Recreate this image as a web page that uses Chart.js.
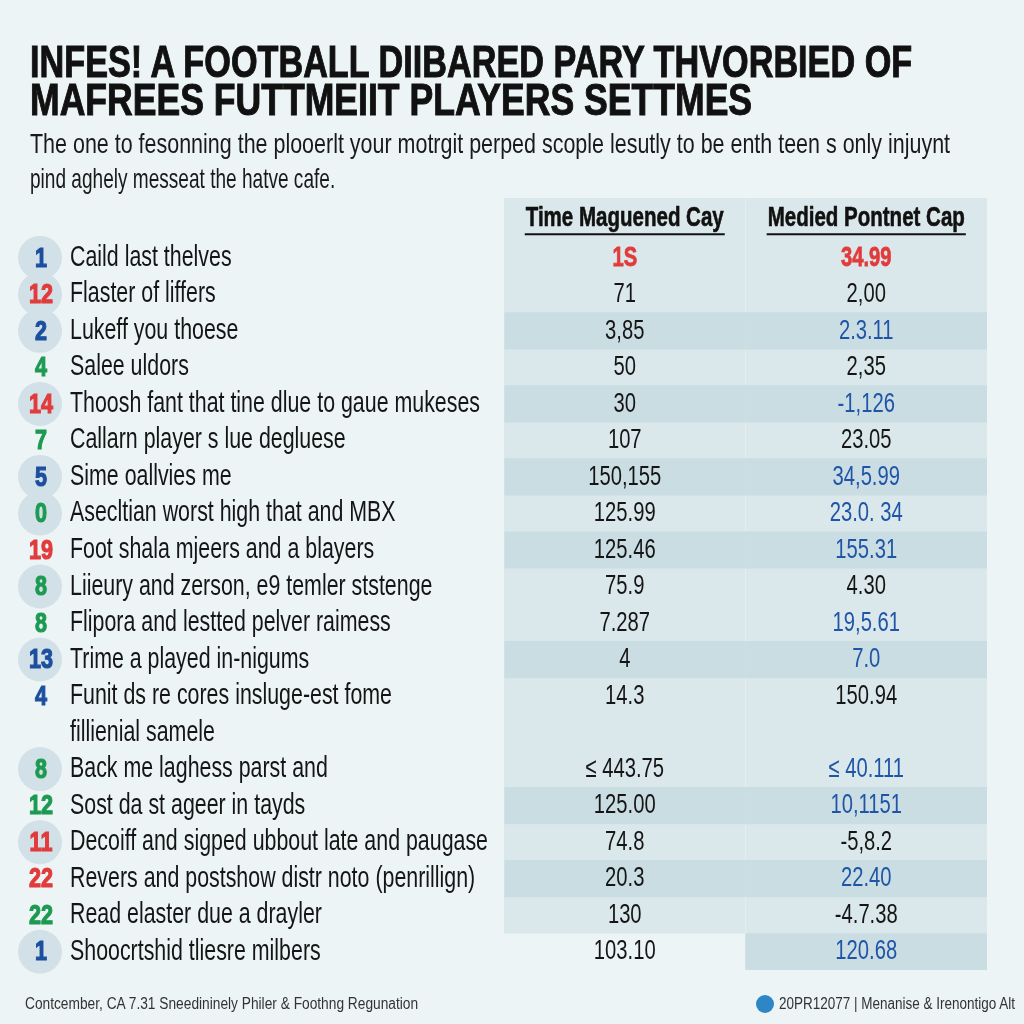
<!DOCTYPE html>
<html>
<head>
<meta charset="utf-8">
<script src="https://cdn.jsdelivr.net/npm/chart.js@4.4.1/dist/chart.umd.min.js"></script>
<style>
  html, body { margin: 0; padding: 0; }
  body { width: 1024px; height: 1024px; background: #ecf4f5; position: relative; overflow: hidden;
         font-family: "Liberation Sans", Arial, sans-serif; color: #151515; }
  #wrap { position: absolute; left: 0; top: 0; width: 1024px; height: 1024px; }
  .title { position: absolute; left: 30px; font-weight: bold; font-size: 44px; line-height: 40px;
           transform-origin: left top; white-space: nowrap; color: #111; -webkit-text-stroke: 1px #111; }
  .sub { position: absolute; left: 30px; font-size: 28px; line-height: 35px; white-space: nowrap;
         transform-origin: left top; color: #1a1a1a; }
  .foot { position: absolute; top: 995px; font-size: 16px; white-space: nowrap; color: #333;
          transform-origin: left top; }
  .icon { position: absolute; left: 756px; top: 995px; width: 18px; height: 18px; border-radius: 50%;
          background: #2f86c4; }
</style>
</head>
<body>
<div id="wrap"><canvas id="tableChart" width="1024" height="1024"></canvas></div>
<div class="title" id="t1" style="top:42px">INFES! A FOOTBALL DIIBARED PARY THVORBIED OF</div>
<div class="title" id="t2" style="top:80px">MAFREES FUTTMEIIT PLAYERS SETTMES</div>
<div class="sub" id="s1" style="top:126px">The one to fesonning the plooerlt your motrgit perped scople lesutly to be enth teen s only injuynt</div>
<div class="sub" id="s2" style="top:161px">pind aghely messeat the hatve cafe.</div>
<div class="foot" id="f1" style="left:25px">Contcember, CA 7.31 Sneedininely Philer &amp; Foothng Regunation</div>
<div class="icon"></div>
<div class="foot" id="f2" style="left:779px">20PR12077 | Menanise &amp; Irenontigo Alt</div>
<script>
// column headers
const headers = ['Time Maguened Cay', 'Medied Pontnet Cap'];

// rows
const ranks = ['1', '12', '2', '4', '14', '7', '5', '0', '19', '8', '8', '13', '4', '8', '12', '11', '22', '22', '1'];
const rankTeam = ['blue', 'red', 'blue', 'green', 'red', 'green', 'blue', 'green', 'red', 'green',
                  'green', 'blue', 'blue', 'green', 'green', 'red', 'red', 'green', 'blue'];
const rankBadge = [1, 1, 1, 0, 1, 0, 1, 1, 0, 1, 0, 1, 0, 1, 0, 1, 0, 0, 1];

const rowLabels = [
  'Caild last thelves',
  'Flaster of liffers',
  'Lukeff you thoese',
  'Salee uldors',
  'Thoosh fant that tine dlue to gaue mukeses',
  'Callarn player s lue degluese',
  'Sime oallvies me',
  'Asecltian worst high that and MBX',
  'Foot shala mjeers and a blayers',
  'Liieury and zerson, e9 temler ststenge',
  'Flipora and lestted pelver raimess',
  'Trime a played in-nigums',
  ['Funit ds re cores insluge-est fome', 'fillienial samele'],
  'Back me laghess parst and',
  'Sost da st ageer in tayds',
  'Decoiff and sigped ubbout late and paugase',
  'Revers and postshow distr noto (penrillign)',
  'Read elaster due a drayler',
  'Shoocrtshid tliesre milbers'
];

const timeValues = ['1S', '71', '3,85', '50', '30', '107', '150,155', '125.99', '125.46', '75.9',
                    '7.287', '4', '14.3', '\u2264 443.75', '125.00', '74.8', '20.3', '130', '103.10'];
const potentialValues = ['34.99', '2,00', '2.3.11', '2,35', '-1,126', '23.05', '34,5.99', '23.0. 34', '155.31', '4.30',
                         '19,5.61', '7.0', '150.94', '\u2264 40.111', '10,1151', '-5,8.2', '22.40', '-4.7.38', '120.68'];
const potentialTone = ['red', 'black', 'blue', 'black', 'blue', 'black', 'blue', 'blue', 'blue', 'black',
                       'blue', 'blue', 'black', 'blue', 'blue', 'black', 'blue', 'black', 'blue'];

const shadedLeft = [2, 4, 6, 8, 11, 14, 16];
const shadedRight = [2, 4, 6, 8, 11, 14, 16, 18];
const lastLeftRow = 17;

const colors = { blue: '#1c4f9e', red: '#e23b3b', green: '#1d9a52', black: '#151515', valBlue: '#1f55a6' };
const panelColor = '#dbe8eb';
const stripeColor = '#cadde3';

// slots on the category axis: header, then one per text line
const slots = ['hdr'];
const rowSlot = [];
rowLabels.forEach((l, i) => {
  rowSlot.push(slots.length);
  slots.push('r' + i);
  if (Array.isArray(l)) for (let k = 1; k < l.length; k++) slots.push('r' + i + '_' + k);
});

function stripeData(rows, from, to) {
  return slots.map((s, idx) => {
    const r = rowSlot.indexOf(idx);
    return (r >= 0 && rows.includes(r)) ? [from, to] : null;
  });
}

const FONT = '"Liberation Sans", Arial, sans-serif';
const LABEL_FONT = '29px ' + FONT;
const VALUE_FONT = '28px ' + FONT;
const HEAD_FONT = 'bold 27px ' + FONT;
const RANK_FONT = 'bold 28px ' + FONT;

// narrow the text like the condensed face of the reference
function widthOf(ctx, font, text) {
  ctx.font = font;
  return ctx.measureText(text).width;
}
function drawNarrow(ctx, text, x, y, align, sx, heavy) {
  ctx.save();
  ctx.translate(x, y);
  ctx.scale(sx, 1);
  ctx.textAlign = align;
  ctx.fillText(text, 0, 0);
  if (heavy) {
    ctx.strokeStyle = ctx.fillStyle;
    ctx.lineWidth = heavy;
    ctx.strokeText(text, 0, 0);
  }
  ctx.restore();
}

const panelPlugin = {
  id: 'panel',
  beforeDatasetsDraw(chart) {
    const { ctx, chartArea } = chart;
    const x = chart.scales.x, y = chart.scales.y;
    const half = (y.getPixelForValue(1) - y.getPixelForValue(0)) / 2;
    const top = chartArea.top - 5;
    ctx.save();
    ctx.fillStyle = panelColor;
    const x0 = x.getPixelForValue(0), x1 = x.getPixelForValue(1), x2 = x.getPixelForValue(2);
    ctx.fillRect(x0, top, x1 - x0, y.getPixelForValue(rowSlot[lastLeftRow]) + half - top);
    ctx.fillRect(x1, top, x2 - x1, chartArea.bottom - top);
    ctx.restore();
  }
};

const textPlugin = {
  id: 'tableText',
  afterDatasetsDraw(chart) {
    const { ctx } = chart;
    const x = chart.scales.x, y = chart.scales.y;
    const c1 = x.getPixelForValue(0.5), c2 = x.getPixelForValue(1.5);
    const labelSx = 410 / widthOf(ctx, LABEL_FONT, rowLabels[4]);
    const valueSx = 73 / widthOf(ctx, VALUE_FONT, timeValues[6]);
    const headSx = 198 / widthOf(ctx, HEAD_FONT, headers[0]);
    const rankSx = 24 / widthOf(ctx, RANK_FONT, '14');
    ctx.save();
    ctx.textBaseline = 'middle';

    // headers
    const hy = y.getPixelForValue(0) - 3;
    ctx.font = HEAD_FONT;
    ctx.fillStyle = '#111';
    [c1, c2].forEach((cx, i) => {
      drawNarrow(ctx, headers[i], cx, hy, 'center', headSx, 0.6);
      const w = ctx.measureText(headers[i]).width * headSx;
      ctx.fillRect(cx - w / 2 - 1, hy + 15, w + 2, 2);
    });

    rowLabels.forEach((label, i) => {
      const py = y.getPixelForValue(rowSlot[i]);
      // badge circle
      if (rankBadge[i]) {
        ctx.fillStyle = '#d2e1e7';
        ctx.beginPath();
        ctx.arc(40, py, 22, 0, Math.PI * 2);
        ctx.fill();
      }
      ctx.font = RANK_FONT;
      ctx.fillStyle = colors[rankTeam[i]];
      drawNarrow(ctx, ranks[i], 41, py + 1, 'center', rankSx, 1.2);

      // label
      ctx.font = LABEL_FONT;
      ctx.fillStyle = '#151515';
      const lines = Array.isArray(label) ? label : [label];
      lines.forEach((ln, k) => drawNarrow(ctx, ln, 70, y.getPixelForValue(rowSlot[i] + k), 'left', labelSx));

      // values
      ctx.font = (i === 0 ? 'bold ' : '') + VALUE_FONT;
      ctx.fillStyle = i === 0 ? colors.red : colors.black;
      drawNarrow(ctx, timeValues[i], c1, py, 'center', valueSx, i === 0 ? 0.8 : 0);
      const tone = potentialTone[i];
      ctx.fillStyle = tone === 'red' ? colors.red : (tone === 'blue' ? colors.valBlue : colors.black);
      drawNarrow(ctx, potentialValues[i], c2, py, 'center', valueSx, i === 0 ? 0.8 : 0);
    });
    ctx.restore();
  }
};

new Chart(document.getElementById('tableChart'), {
  type: 'bar',
  data: {
    labels: slots,
    datasets: [
      { label: 'left stripes', data: stripeData(shadedLeft, 0, 1), backgroundColor: stripeColor, grouped: false,
        categoryPercentage: 1, barPercentage: 1, borderWidth: 0 },
      { label: 'right stripes', data: stripeData(shadedRight, 1, 2), backgroundColor: stripeColor, grouped: false,
        categoryPercentage: 1, barPercentage: 1, borderWidth: 0 }
    ]
  },
  options: {
    indexAxis: 'y',
    responsive: false,
    animation: false,
    layout: { padding: { left: 504, right: 37, top: 203, bottom: 54 } },
    plugins: { legend: { display: false }, tooltip: { enabled: false }, title: { display: false } },
    scales: {
      x: {
        type: 'linear', min: 0, max: 2, z: 1,
        ticks: { display: false, stepSize: 1 },
        border: { display: false },
        grid: {
          drawTicks: false,
          lineWidth: 1.5,
          color: c => c.tick && c.tick.value === 1 ? 'rgba(255,255,255,0.95)' : 'rgba(0,0,0,0)'
        }
      },
      y: { type: 'category', display: false, offset: true }
    }
  },
  plugins: [panelPlugin, textPlugin]
});

// fit headline widths to the reference layout
function fit(id, w) {
  const el = document.getElementById(id);
  el.style.transform = 'scaleX(' + (w / el.scrollWidth) + ')';
}
fit('t1', 882); fit('t2', 722); fit('s1', 920); fit('s2', 305);
fit('f1', 393); fit('f2', 236);
</script>
</body>
</html>
